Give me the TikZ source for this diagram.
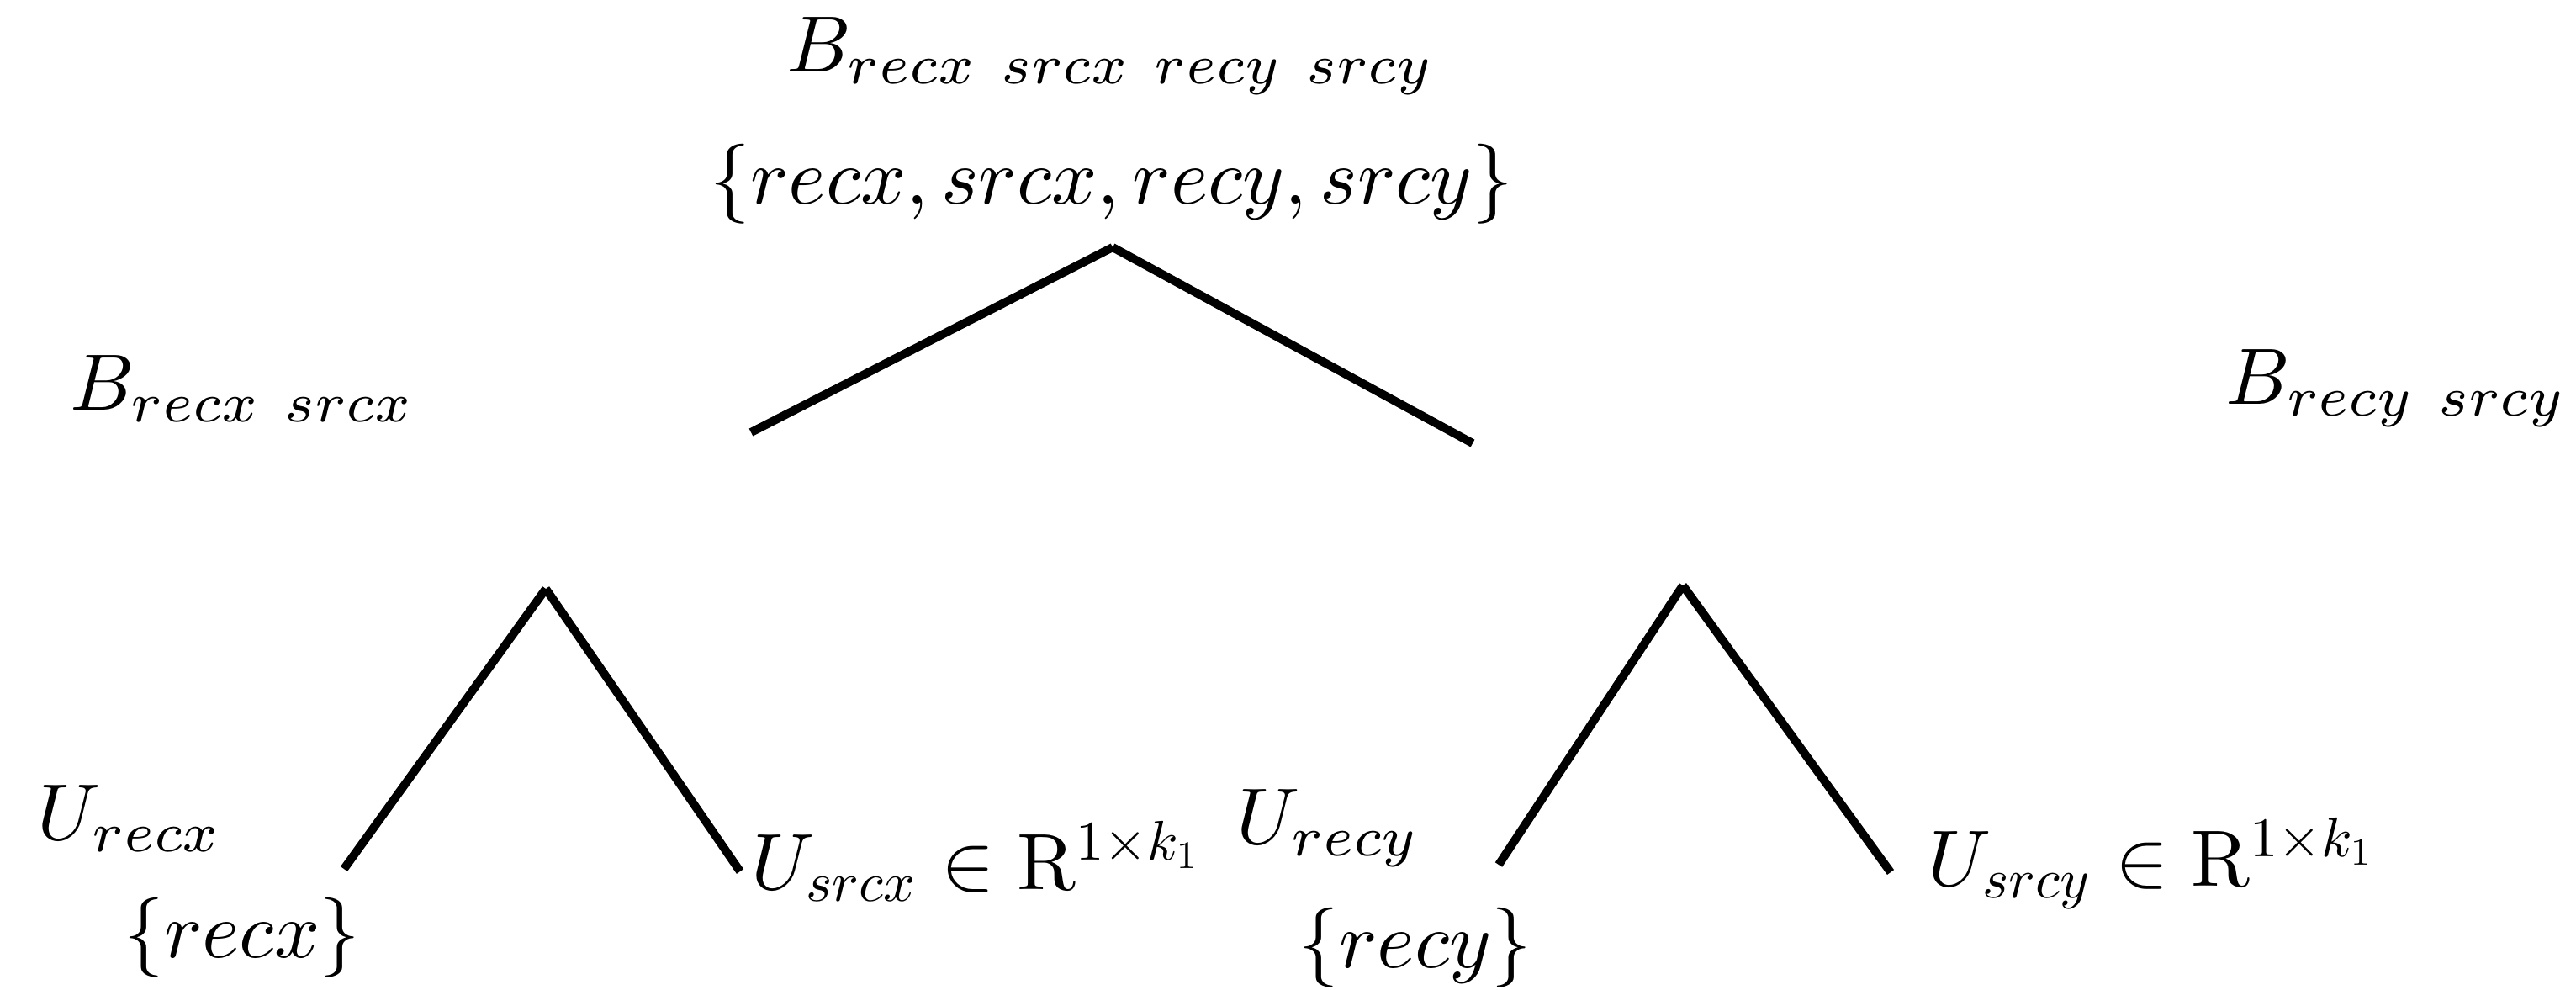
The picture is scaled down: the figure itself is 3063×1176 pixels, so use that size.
\documentclass[tikz,border=0pt]{standalone}
\usepackage{amsmath}
\usepackage{graphicx}
\newcommand{\wsp}{\hspace{0.34em}}
\newcommand{\smsc}[1]{\scalebox{0.7}{$#1$}}
\begin{document}
\begin{tikzpicture}[x=0.10526pt,y=-0.10526pt,
  lbl/.style={inner sep=0pt, anchor=base west},
  branch/.style={line width=1.05pt, line cap=butt}]
\useasboundingbox (0,0) rectangle (3063,1176);
% labels
\node[lbl] (root) at (934,85) {$B_{recx\wsp srcx\wsp recy\wsp srcy}$};
\node[lbl] (rootset) at (843,242) {$\{recx,srcx,recy,srcy\}$};
\node[lbl] (bx) at (82,487) {$B_{recx\wsp srcx}$};
\node[lbl] (by) at (2645,480) {$B_{recy\wsp srcy}$};
\node[lbl] (urecx) at (43,998) {$U_{recx}$};
\node[lbl] (setx) at (146,1138) {$\{recx\}$};
\node[lbl] (usrcx) at (892,1057) {$U_{\smsc{srcx}}\in\mathrm{R}^{\smsc{1{\times}k_{\smsc{1}}}}$};
\node[lbl] (urecy) at (1469,1003) {$U_{recy}$};
\node[lbl] (sety) at (1543,1150) {$\{recy\}$};
\node[lbl] (usrcy) at (2291,1053) {$U_{\smsc{srcy}}\in\mathrm{R}^{\smsc{1{\times}k_{\smsc{1}}}}$};
% branch points
\coordinate (a0) at (1323,294);
\coordinate (a0l) at (893,514);
\coordinate (a0r) at (1751,527);
\coordinate (a1) at (649,700);
\coordinate (a1l) at (409,1033);
\coordinate (a1r) at (880,1036);
\coordinate (a2) at (2001,696);
\coordinate (a2l) at (1782,1028);
\coordinate (a2r) at (2248,1037);
% branches
\draw[branch] (a0) -- (a0l);
\draw[branch] (a0) -- (a0r);
\draw[branch] (a1) -- (a1l);
\draw[branch] (a1) -- (a1r);
\draw[branch] (a2) -- (a2l);
\draw[branch] (a2) -- (a2r);
\end{tikzpicture}
\end{document}
